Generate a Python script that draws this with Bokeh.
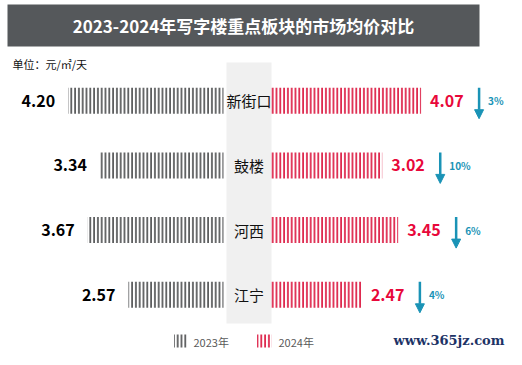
from bokeh.plotting import figure
from bokeh.models import Range1d, ColumnDataSource, Arrow, NormalHead
from bokeh.embed import file_html
from bokeh.resources import INLINE
from bokeh.core.properties import value

# ---------------- data ----------------
categories = ["新街口", "鼓楼", "河西", "江宁"]
price_2023 = [4.20, 3.34, 3.67, 2.57]
price_2024 = [4.07, 3.02, 3.45, 2.47]
decline_labels = ["3%", "10%", "6%", "4%"]
series_names = ["2023年", "2024年"]
title_text = "2023-2024年写字楼重点板块的市场均价对比"
unit_text = "单位：元/㎡/天"
watermark = "www.365jz.com"

# ---------------- layout helpers (pixel -> data) ----------------
W, H = 506, 349
PX_PER_UNIT = 37.0
CENTER_PX = 246.5
ROW0_PX = 100.2
ROW_PX = 64.7

x_start = -CENTER_PX / PX_PER_UNIT
x_end = (W - CENTER_PX) / PX_PER_UNIT
y_top = -ROW0_PX / ROW_PX
y_bottom = (H - ROW0_PX) / ROW_PX


def sx(px):
    return x_start + px / PX_PER_UNIT


def sy(py):
    return y_top + py / ROW_PX


def dx(px):
    return px / PX_PER_UNIT


def dy(py):
    return py / ROW_PX


HALF_GAP = dx(23.5)
BAR_H = dy(26)
FONT = value("Noto Sans CJK SC")
GRAY_STRIPE = "#3c3e40"
RED = "#d8002c"
RED_TEXT = "#e8083a"
TEAL = "#1a93b6"
HATCH_SCALE = 3.8
HATCH_W = 1.5

rows = list(range(len(categories)))

p = figure(width=W, height=H, x_range=Range1d(x_start, x_end),
           y_range=Range1d(y_bottom, y_top), output_backend="svg",
           toolbar_location=None, min_border=0,
           x_axis_location=None, y_axis_location=None)
p.grid.visible = False
p.outline_line_color = None
p.background_fill_color = "white"
p.border_fill_color = "white"

# title bar
p.quad(left=sx(7), right=sx(479), top=sy(4), bottom=sy(46),
       fill_color="#55585b", line_color=None)
p.text(x=[sx(243)], y=[sy(25)], text=[title_text], text_color="white",
       text_font=FONT, text_font_style="bold", text_font_size="17px",
       text_align="center", text_baseline="middle")

# unit text
p.text(x=[sx(12)], y=[sy(63)], text=[unit_text], text_color="#111111",
       text_font=FONT, text_font_size="11px",
       text_align="left", text_baseline="middle")

# center band
p.quad(left=sx(226), right=sx(271), top=sy(62), bottom=sy(323),
       fill_color="#f0f0f0", line_color=None)

src = ColumnDataSource(dict(
    y=rows,
    cat=categories,
    l23_left=[-HALF_GAP - v for v in price_2023],
    l24_right=[HALF_GAP + v for v in price_2024],
    t23=[f"{v:.2f}" for v in price_2023],
    t24=[f"{v:.2f}" for v in price_2024],
    lab23_x=[-HALF_GAP - v - dx(13) for v in price_2023],
    lab24_x=[HALF_GAP + v + dx(9) for v in price_2024],
    arr_x=[HALF_GAP + v + dx(58) for v in price_2024],
    arr_y0=[r - dy(13) for r in rows],
    arr_y1=[r + dy(18) for r in rows],
    pct_x=[HALF_GAP + v + dx(67) for v in price_2024],
    pct=decline_labels,
))

# 2023 bars (left)
p.hbar(y="y", left="l23_left", right=-HALF_GAP, height=BAR_H, source=src,
       fill_color=None, line_color=None, hatch_pattern="vertical_line",
       hatch_color=GRAY_STRIPE, hatch_scale=HATCH_SCALE, hatch_weight=HATCH_W)
# 2024 bars (right)
p.hbar(y="y", left=HALF_GAP, right="l24_right", height=BAR_H, source=src,
       fill_color=None, line_color=None, hatch_pattern="vertical_line",
       hatch_color=RED, hatch_scale=HATCH_SCALE, hatch_weight=HATCH_W)

# category labels
p.text(x=sx(248.5), y="y", text="cat", source=src, text_font=FONT,
       text_font_size="15px", text_color="#111111",
       text_align="center", text_baseline="middle")

# value labels
p.text(x="lab23_x", y="y", text="t23", source=src, text_font=FONT,
       text_font_size="16px", text_font_style="bold", text_color="#000000",
       text_align="right", text_baseline="middle")
p.text(x="lab24_x", y="y", text="t24", source=src, text_font=FONT,
       text_font_size="16px", text_font_style="bold", text_color=RED_TEXT,
       text_align="left", text_baseline="middle")

# decline arrows
p.add_layout(Arrow(x_start="arr_x", y_start="arr_y0", x_end="arr_x", y_end="arr_y1",
                   source=src, line_color=TEAL, line_width=2.5,
                   end=NormalHead(size=9, fill_color=TEAL, line_color=TEAL)))
p.text(x="pct_x", y="y", text="pct", source=src, text_font=FONT,
       text_font_size="10px", text_font_style="bold", text_color=TEAL,
       text_align="left", text_baseline="middle")

# legend
p.quad(left=sx(173.5), right=sx(187), top=sy(334), bottom=sy(347),
       fill_color=None, line_color=None, hatch_pattern="vertical_line",
       hatch_color=GRAY_STRIPE, hatch_scale=HATCH_SCALE, hatch_weight=HATCH_W)
p.text(x=[sx(193)], y=[sy(341)], text=[series_names[0]], text_font=FONT,
       text_font_size="11px", text_color="#595959",
       text_align="left", text_baseline="middle")
p.quad(left=sx(256.5), right=sx(271), top=sy(334), bottom=sy(347),
       fill_color=None, line_color=None, hatch_pattern="vertical_line",
       hatch_color=RED, hatch_scale=HATCH_SCALE, hatch_weight=HATCH_W)
p.text(x=[sx(278)], y=[sy(341)], text=[series_names[1]], text_font=FONT,
       text_font_size="11px", text_color="#595959",
       text_align="left", text_baseline="middle")

# watermark
p.text(x=[sx(504)], y=[sy(340)], text=[watermark], text_font=value("DejaVu Serif"),
       text_font_size="13px", text_font_style="bold", text_color="#1d3366",
       text_align="right", text_baseline="middle")

open("out.html", "w").write(file_html(p, INLINE))
